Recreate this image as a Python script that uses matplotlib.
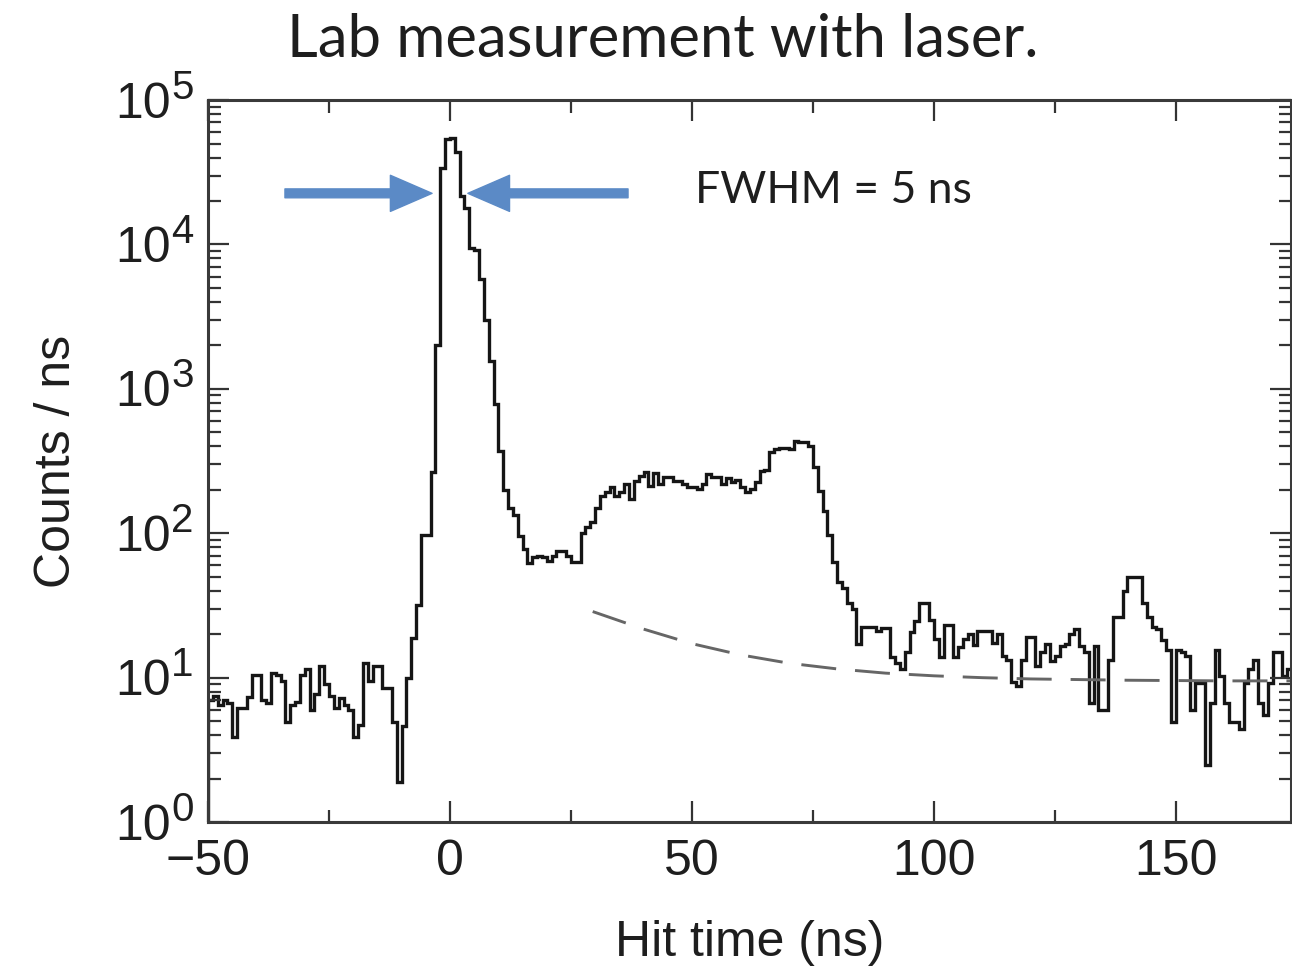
import numpy as np
import matplotlib.pyplot as plt
import matplotlib.transforms as mtransforms
from matplotlib.ticker import MultipleLocator, LogLocator, NullFormatter

# --- DATA ---
# hit-time histogram, 1 ns bins from -50 ns to 175 ns
bin_edges = np.arange(-50, 176)

counts_baseline = [7, 7.5, 6.5, 7, 6.7, 3.9, 6.2, 6.2, 7.4, 10.5,
                   10.5, 7, 6.7, 10.7, 10.5, 9.5, 4.9, 6.5, 6.8, 10.5,
                   11.5, 6, 7.7, 12, 9, 7.5, 6.2, 7.2, 6.5, 6,
                   3.9, 4.7, 12.7, 9.5, 12, 12, 8.5, 8.5, 4.9, 1.9]          # -50 .. -11
counts_rise = [4.6, 10, 18.7, 32, 98, 98, 265, 2000, 34000, 54000]         # -10 .. -1
counts_peak = [55000, 44000, 21800, 18000, 9400, 9100, 5800, 3000, 1550,
               780, 370]                                                   # 0 .. 10
counts_plateau = [200, 150, 133, 95, 78, 62, 68, 70, 68, 64,
                  70, 75, 75, 70, 63, 63, 100, 110, 120, 150,
                  180, 193, 210, 180, 193, 220, 172, 230, 250, 265,
                  213, 260, 220, 245, 245, 230, 230, 220, 210, 210]        # 11 .. 50
counts_bump = [203, 220, 257, 245, 245, 220, 240, 228, 235, 210,
               193, 203, 228, 270, 275, 365, 383, 390, 390, 383,
               437, 430, 430, 400, 290, 195, 142, 98, 63, 46,
               42, 33, 30]                                                 # 51 .. 83
counts_tail = [17, 22.6, 22.6, 22.6, 21, 22, 22, 14, 12.7, 11.4,
               15, 20.6, 24.5, 33, 33, 25, 18.4, 14, 23, 23,
               14, 16.4, 18.4, 20, 16.9, 21, 21, 21, 17.5, 20,
               14.2, 13.3, 9.4, 8.7, 13.3, 19, 19, 12, 15, 17]             # 84 .. 123
counts_late = [13, 14.2, 16.5, 17, 20, 21.6, 16.5, 15, 6.7, 16.5,
               6, 6, 13.3, 26.5, 26.5, 40, 49.5, 49.5, 49.5, 33,
               26.5, 22.6, 21.6, 18.3, 15.6, 4.9, 15.6, 15, 14.2, 6,
               9.2, 9.2, 2.5, 6.7, 15.6, 10.2, 6.7, 4.9, 4.9, 4.4,
               9.2, 11.4, 13.3, 6.7, 5.5, 9.2, 15, 15, 10.2, 11.4,
               10]                                                         # 124 .. 174

counts = (counts_baseline + counts_rise + counts_peak + counts_plateau
          + counts_bump + counts_tail + counts_late)

# dashed background estimate
bg_time = [29.5, 40, 50, 60, 70, 80, 90, 100, 110, 120, 130, 140, 150, 160, 175]
bg_counts = [28.7, 21.7, 17.2, 14.4, 12.6, 11.5, 10.75, 10.3, 10.0, 9.8,
             9.7, 9.6, 9.55, 9.5, 9.5]

decades = [0, 1, 2, 3, 4, 5]
x_ticks = [-50, 0, 50, 100, 150]

# --- PLOT ---
plt.rcParams['font.family'] = ['Liberation Sans', 'DejaVu Sans']

fig = plt.figure(figsize=(12.92, 9.66), dpi=100)
ax = fig.add_axes([0.161, 0.149, 0.8382, 0.7474])

ax.plot(bg_time, bg_counts, color='#666666', lw=2.1, dashes=(12, 6.5))
ax.stairs(counts, bin_edges, color='#151515', lw=2.4)

ax.set_yscale('log')
ax.set_ylim(1, 1e5)
ax.set_xlim(-50, 173.8)
ax.set_xticks(x_ticks)
ax.xaxis.set_minor_locator(MultipleLocator(25))
ax.set_yticks([10.0 ** d for d in decades])
ax.set_yticklabels([])
ax.yaxis.set_minor_locator(LogLocator(base=10, subs=np.arange(2, 10)))
ax.yaxis.set_minor_formatter(NullFormatter())

ax.tick_params(which='both', direction='in', top=True, right=True,
               width=1.6, color='#333333')
ax.tick_params(which='major', length=15, labelsize=36, pad=12,
               labelcolor='#1e1e1e')
ax.tick_params(which='minor', length=9)
for sp in ax.spines.values():
    sp.set_linewidth(2.2)
    sp.set_color('#3a3a3a')

# y tick labels as 10 with a large exponent
trans = mtransforms.blended_transform_factory(ax.transAxes, ax.transData)
for d in decades:
    ax.annotate('10', xy=(-0.034, 10.0 ** d), xycoords=trans,
                xytext=(0, -12.6), textcoords='offset points',
                ha='right', va='baseline', fontsize=36, color='#1e1e1e',
                annotation_clip=False)
    ax.annotate(str(d), xy=(-0.034, 10.0 ** d), xycoords=trans,
                xytext=(0, 1.0), textcoords='offset points',
                ha='left', va='baseline', fontsize=29, color='#1e1e1e',
                annotation_clip=False)

ax.set_xlabel('Hit time (ns)', fontsize=36, color='#1e1e1e')
ax.xaxis.set_label_coords(0.5, -0.135)
ax.set_ylabel('Counts / ns', fontsize=36, color='#1e1e1e')
ax.yaxis.set_label_coords(-0.118, 0.5)

# FWHM arrows and text
arrow_kw = dict(arrowstyle='simple,head_length=1.5,head_width=1.3,tail_width=0.32',
                color='#5b8ac6', mutation_scale=20, shrinkA=0, shrinkB=0)
ax.annotate('', xy=(-3.7, 2.26e4), xytext=(-34.1, 2.26e4), arrowprops=arrow_kw)
ax.annotate('', xy=(3.7, 2.26e4), xytext=(36.8, 2.26e4), arrowprops=arrow_kw)
ax.text(50.6, 10 ** 4.375, 'FWHM = 5 ns', ha='left', va='center',
        fontsize=32, family='Lato', color='#1e1e1e')

fig.text(0.513, 1 - 40 / 966, 'Lab measurement with laser.', ha='center',
         va='center', fontsize=43, family='Lato', color='#1e1e1e')

fig.savefig('out.png', dpi=100)
